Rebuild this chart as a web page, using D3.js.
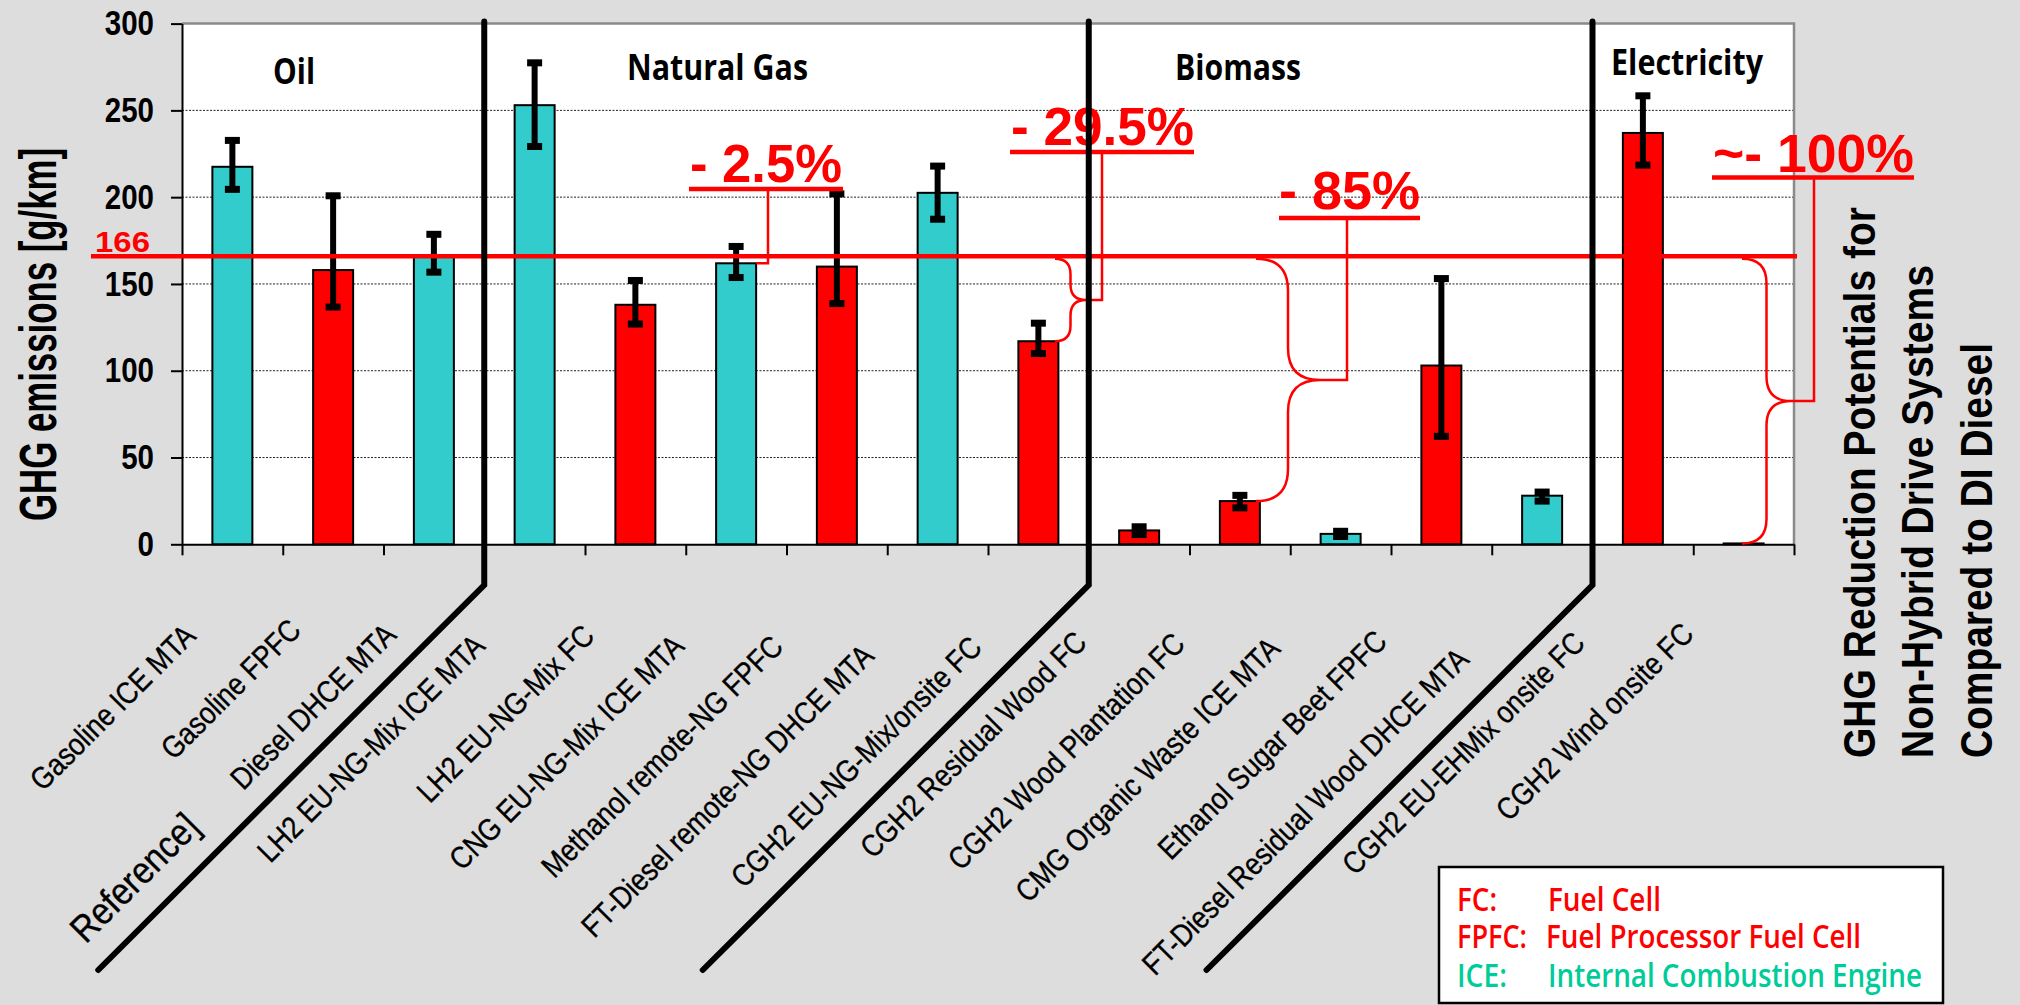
<!DOCTYPE html>
<html>
<head>
<meta charset="utf-8">
<script src="https://cdn.jsdelivr.net/npm/d3@7/dist/d3.min.js"></script>
<style>
  html, body { margin: 0; padding: 0; background: #dddddd; }
  svg { display: block; }
</style>
</head>
<body>
<svg id="chart" width="2020" height="1005"></svg>
<script>
// ---- data -------------------------------------------------------------
const categories = [
  "Gasoline ICE MTA", "Gasoline FPFC", "Diesel DHCE MTA", "LH2 EU-NG-Mix ICE MTA",
  "LH2 EU-NG-Mix FC", "CNG EU-NG-Mix ICE MTA", "Methanol remote-NG FPFC",
  "FT-Diesel remote-NG DHCE MTA", "CGH2 EU-NG-Mix/onsite FC", "CGH2 Residual Wood FC",
  "CGH2 Wood Plantation FC", "CMG Organic Waste ICE MTA", "Ethanol Sugar Beet FPFC",
  "FT-Diesel Residual Wood DHCE MTA", "CGH2 EU-EHMix onsite FC", "CGH2 Wind onsite FC"
];
const driveType = ["ICE","FC","ICE","ICE","FC","ICE","FC","ICE","FC","FC","FC","ICE","FC","ICE","FC","FC"];
const emissions = [217.5, 158, 166, 253, 138, 161.9, 160, 202.5, 117, 8, 24.9, 6, 103, 28, 237, 0.5];
const errorHigh = [232.7, 200.8, 178.6, 277.4, 152, 171.6, 201.9, 217.9, 127.4, 10.1, 28.2, 7.5, 153.1, 30.1, 258.4, null];
const errorLow  = [204.5, 136.7, 156.8, 229.2, 126.9, 153.7, 138.7, 187.3, 109.9, 5.6, 21.0, 4.5, 62.2, 24.9, 218.5, null];
const extraLabel = "Reference]";
const yTicks = [0, 50, 100, 150, 200, 250, 300];
const referenceValue = 166;
const groupNames = ["Oil", "Natural Gas", "Biomass", "Electricity"];
const groupStarts = [0, 3, 9, 14];
const reductionLabels = ["- 2.5%", "- 29.5%", "- 85%", "~- 100%"];
const reductionTargets = [5, 8, 10, 15];
const legendCodes = ["FC:", "FPFC:", "ICE:"];
const legendNames = ["Fuel Cell", "Fuel Processor Fuel Cell", "Internal Combustion Engine"];
const yTitle = "GHG emissions [g/km]";
const sideTitle = ["GHG Reduction Potentials for", "Non-Hybrid Drive Systems", "Compared to DI Diesel"];

// ---- layout -----------------------------------------------------------
const W = 2020, H = 1005;
const pL = 182, pR = 1794, pT = 23.6, pB = 544.3;
const RED = "#ff0000", CYAN = "#33cccc", GREEN = "#00cc99";
const ARIAL = "'Liberation Sans', Arial, sans-serif";
const HUMAN = "'Open Sans', 'Noto Sans', sans-serif";

const svg = d3.select("#chart");
svg.append("rect").attr("width", W).attr("height", H).attr("fill", "#dddddd");

const idx = d3.range(categories.length);
const x = d3.scaleBand().domain(idx).range([pL, pR]);
const bw = x.bandwidth();
const xEdge = d3.scaleLinear().domain([0, categories.length]).range([pL, pR]);
const y = d3.scaleLinear().domain([0, 300]).range([pB, pT]);
const barW = 40;
const cx = i => x(i) + bw / 2;

// plot area
svg.append("rect").attr("x", pL).attr("y", pT)
  .attr("width", pR - pL).attr("height", pB - pT).attr("fill", "#ffffff");

// dotted gridlines
svg.append("g").selectAll("line")
  .data(yTicks.filter(v => v > 0 && v < 300)).join("line")
  .attr("x1", pL).attr("x2", pR)
  .attr("y1", d => y(d)).attr("y2", d => y(d))
  .attr("stroke", "#222").attr("stroke-width", 1).attr("stroke-dasharray", "2,1.5");

// grey frame on top and right
svg.append("path").attr("d", `M${pL},${pT}H${pR}V${pB}`)
  .attr("fill", "none").attr("stroke", "#8a8a8a").attr("stroke-width", 2.5);

// bars
svg.append("g").selectAll("rect").data(emissions).join("rect")
  .attr("x", (d, i) => cx(i) - barW / 2)
  .attr("y", d => y(d))
  .attr("width", barW)
  .attr("height", d => pB - y(d))
  .attr("fill", (d, i) => driveType[i] === "ICE" ? CYAN : RED)
  .attr("stroke", "#000").attr("stroke-width", 2);

// error bars
const errIdx = idx.filter(i => errorHigh[i] != null);
const eg = svg.append("g");
eg.selectAll("line").data(errIdx).join("line")
  .attr("x1", i => cx(i)).attr("x2", i => cx(i))
  .attr("y1", i => y(errorHigh[i])).attr("y2", i => y(errorLow[i]))
  .attr("stroke", "#000").attr("stroke-width", 6);
eg.selectAll("rect.capHi").data(errIdx).join("rect").attr("class", "capHi")
  .attr("x", i => cx(i) - 7.5).attr("y", i => y(errorHigh[i]) - 3.5)
  .attr("width", 15).attr("height", 7).attr("fill", "#000");
eg.selectAll("rect.capLo").data(errIdx).join("rect").attr("class", "capLo")
  .attr("x", i => cx(i) - 7.5).attr("y", i => y(errorLow[i]) - 3.5)
  .attr("width", 15).attr("height", 7).attr("fill", "#000");

// y axis
const yAxis = svg.append("g").attr("transform", `translate(${pL},0)`)
  .call(d3.axisLeft(y).tickValues(yTicks).tickSize(11).tickSizeOuter(0).tickPadding(17));
yAxis.select(".domain").attr("stroke", "#000").attr("stroke-width", 2);
yAxis.selectAll(".tick line").attr("stroke", "#000").attr("stroke-width", 2);
yAxis.selectAll(".tick text")
  .attr("font-family", ARIAL).attr("font-weight", "bold").attr("font-size", 35)
  .attr("fill", "#000")
  .attr("textLength", d => String(d).length * 16.4)
  .attr("lengthAdjust", "spacingAndGlyphs");

// x axis: ticks between categories
const xAxis = svg.append("g").attr("transform", `translate(0,${pB})`)
  .call(d3.axisBottom(xEdge).tickValues(d3.range(categories.length + 1))
    .tickSize(11).tickSizeOuter(0).tickFormat(""));
xAxis.select(".domain").attr("stroke", "#000").attr("stroke-width", 2);
xAxis.selectAll(".tick line").attr("stroke", "#000").attr("stroke-width", 2);

// rotated category labels (condensed along the baseline)
const SQ = Math.SQRT2;
const labScale = 0.86;
const labG = svg.append("g");
labG.selectAll("text").data(categories).join("text")
  .attr("font-family", ARIAL).attr("font-size", 31).attr("fill", "#000")
  .attr("stroke", "#000").attr("stroke-width", 0.35)
  .attr("text-anchor", "end")
  .text(d => d)
  .each(function (d, i) {
    const L = this.getComputedTextLength() * labScale;
    const along = SQ * (-399 - 0.187 * L);
    const perp = 653 - i;
    const xe = xEdge(i) + (along + perp) / 2;
    const ye = (perp - along) / 2;
    d3.select(this).attr("transform", `translate(${xe},${ye}) rotate(-45) scale(${labScale},1)`);
  });
labG.append("text")
  .attr("font-family", ARIAL).attr("font-size", 38).attr("fill", "#000")
  .attr("stroke", "#000").attr("stroke-width", 0.35)
  .attr("text-anchor", "end")
  .attr("transform", `translate(${xEdge(2) - 182},829) rotate(-45) scale(0.88,1)`)
  .text(extraLabel);

// group labels
const groupPos = [[273, 84, 42], [627, 80, 181], [1175, 79.5, 126], [1611, 75, 152]];
svg.append("g").selectAll("text").data(groupNames).join("text")
  .attr("x", (d, i) => groupPos[i][0]).attr("y", (d, i) => groupPos[i][1])
  .attr("font-family", HUMAN).attr("font-weight", 700).attr("font-size", 35)
  .attr("fill", "#000")
  .attr("textLength", (d, i) => groupPos[i][2]).attr("lengthAdjust", "spacingAndGlyphs")
  .text(d => d);

// reference level
svg.append("line")
  .attr("x1", 91).attr("x2", 1797)
  .attr("y1", y(referenceValue)).attr("y2", y(referenceValue))
  .attr("stroke", RED).attr("stroke-width", 4.5);
svg.append("text").attr("x", 95).attr("y", 252)
  .attr("font-family", ARIAL).attr("font-weight", "bold").attr("font-size", 30)
  .attr("fill", RED).attr("textLength", 55).attr("lengthAdjust", "spacingAndGlyphs")
  .text(referenceValue);

// reduction annotations
function bracePath(x0, y1, y2, w) {
  const xs = x0 + w / 2, ym = (y1 + y2) / 2, r = Math.min(w / 2, (y2 - y1) / 4);
  return `M${x0},${y1} Q${xs},${y1} ${xs},${y1 + r} L${xs},${ym - r} ` +
         `Q${xs},${ym} ${x0 + w},${ym} Q${xs},${ym} ${xs},${ym + r} ` +
         `L${xs},${y2 - r} Q${xs},${y2} ${x0},${y2}`;
}
const annot = [
  { tx: 690,  ty: 182,   tw: 152, u1: 689,  u2: 843,  uy: 189,   lx: 768,  braceX: null, braceW: 0 },
  { tx: 1011, ty: 145,   tw: 183, u1: 1010, u2: 1194, uy: 152,   lx: 1102, braceX: 1055, braceW: 31 },
  { tx: 1279, ty: 209,   tw: 141, u1: 1279, u2: 1420, uy: 218,   lx: 1347, braceX: 1256, braceW: 64 },
  { tx: 1713, ty: 171.5, tw: 201, u1: 1712, u2: 1914, uy: 177.5, lx: 1814, braceX: 1742, braceW: 49 }
];
const ag = svg.append("g");
reductionLabels.forEach((lab, k) => {
  const a = annot[k], t = reductionTargets[k];
  ag.append("text").attr("x", a.tx).attr("y", a.ty)
    .attr("font-family", ARIAL).attr("font-weight", "bold").attr("font-size", 53)
    .attr("fill", RED).attr("textLength", a.tw).attr("lengthAdjust", "spacingAndGlyphs")
    .text(lab);
  ag.append("line").attr("x1", a.u1).attr("x2", a.u2).attr("y1", a.uy).attr("y2", a.uy)
    .attr("stroke", RED).attr("stroke-width", 4.5);
  if (a.braceX == null) {
    ag.append("path")
      .attr("d", `M${cx(t) + barW / 2},${y(emissions[t])} H${a.lx} V${a.uy}`)
      .attr("fill", "none").attr("stroke", RED).attr("stroke-width", 2.5);
  } else {
    const y1 = y(referenceValue) + 2.5, y2 = y(emissions[t]);
    ag.append("path").attr("d", bracePath(a.braceX, y1, y2, a.braceW))
      .attr("fill", "none").attr("stroke", RED).attr("stroke-width", 2.5);
    const ym = (y1 + y2) / 2;
    ag.append("path").attr("d", `M${a.braceX + a.braceW},${ym} H${a.lx} V${a.uy}`)
      .attr("fill", "none").attr("stroke", RED).attr("stroke-width", 2.5);
  }
});

// group separators running down into the label area
const sepG = svg.append("g");
groupStarts.slice(1).forEach(s => {
  const xs = xEdge(s);
  sepG.append("path")
    .attr("d", `M${xs},${pT - 2} V585 L${xs - 386},970`)
    .attr("fill", "none").attr("stroke", "#000").attr("stroke-width", 6)
    .attr("stroke-linecap", "round").attr("stroke-linejoin", "miter");
});

// y-axis title
svg.append("text")
  .attr("transform", `translate(56,334.5) rotate(-90)`)
  .attr("text-anchor", "middle")
  .attr("font-family", ARIAL).attr("font-weight", "bold").attr("font-size", 52)
  .attr("fill", "#000").attr("textLength", 373).attr("lengthAdjust", "spacingAndGlyphs")
  .text(yTitle);

// side title
const sideX = [1875, 1933, 1992], sideLen = [551, 493, 415];
svg.append("g").selectAll("text").data(sideTitle).join("text")
  .attr("transform", (d, i) => `translate(${sideX[i]},758) rotate(-90)`)
  .attr("font-family", ARIAL).attr("font-weight", "bold").attr("font-size", 45)
  .attr("fill", "#000")
  .attr("textLength", (d, i) => sideLen[i]).attr("lengthAdjust", "spacingAndGlyphs")
  .text(d => d);

// legend
const lg = svg.append("g");
lg.append("rect").attr("x", 1439).attr("y", 867).attr("width", 504).attr("height", 136)
  .attr("fill", "#fff").attr("stroke", "#000").attr("stroke-width", 2.5);
const legColor = [RED, RED, GREEN];
const legY = [911, 948, 987];
const codeLen = [40, 70, 50];
const nameX = [1548, 1546, 1548];
const nameLen = [113, 315, 374];
legendCodes.forEach((c, i) => {
  lg.append("text").attr("x", 1457).attr("y", legY[i])
    .attr("font-family", HUMAN).attr("font-weight", 600).attr("font-size", 32)
    .attr("fill", legColor[i]).attr("textLength", codeLen[i]).attr("lengthAdjust", "spacingAndGlyphs")
    .text(c);
  lg.append("text").attr("x", nameX[i]).attr("y", legY[i])
    .attr("font-family", HUMAN).attr("font-weight", 600).attr("font-size", 32)
    .attr("fill", legColor[i]).attr("textLength", nameLen[i]).attr("lengthAdjust", "spacingAndGlyphs")
    .text(legendNames[i]);
});
</script>
</body>
</html>
